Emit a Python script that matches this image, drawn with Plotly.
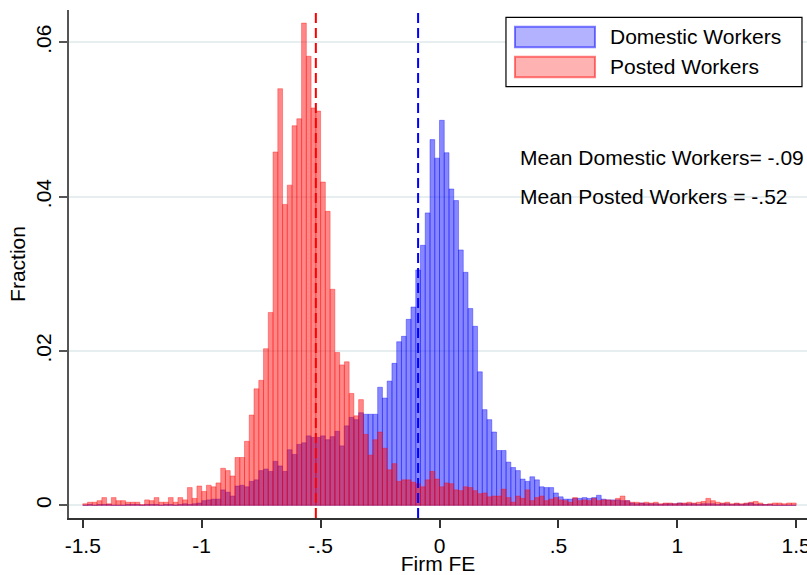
import plotly.graph_objects as go

# ---- data -------------------------------------------------------------
bin_width = 0.02
bin_start = -1.5
n_bins = 150

domestic = [
    0.0000, 0.0001, 0.0000, 0.0001, 0.0001, 0.0001, 0.0000, 0.0000, 0.0000, 0.0001,
    0.0001, 0.0001, 0.0000, 0.0001, 0.0001, 0.0001, 0.0000, 0.0001, 0.0001, 0.0000,
    0.0001, 0.0002, 0.0001, 0.0002, 0.0003, 0.0006, 0.0007, 0.0008, 0.0008, 0.0020,
    0.0017, 0.0012, 0.0025, 0.0026, 0.0024, 0.0031, 0.0033, 0.0045, 0.0047, 0.0044,
    0.0057, 0.0051, 0.0044, 0.0072, 0.0066, 0.0079, 0.0081, 0.0090, 0.0088, 0.0088,
    0.0090, 0.0085, 0.0089, 0.0096, 0.0077, 0.0103, 0.0114, 0.0111, 0.0120, 0.0118,
    0.0118, 0.0118, 0.0153, 0.0139, 0.0161, 0.0184, 0.0212, 0.0219, 0.0241, 0.0257,
    0.0305, 0.0337, 0.0379, 0.0474, 0.0450, 0.0499, 0.0457, 0.0410, 0.0395, 0.0331,
    0.0302, 0.0255, 0.0232, 0.0173, 0.0124, 0.0111, 0.0095, 0.0071, 0.0071, 0.0056,
    0.0049, 0.0045, 0.0034, 0.0031, 0.0037, 0.0033, 0.0024, 0.0023, 0.0023, 0.0016,
    0.0011, 0.0008, 0.0008, 0.0009, 0.0009, 0.0010, 0.0009, 0.0010, 0.0013, 0.0008,
    0.0007, 0.0007, 0.0007, 0.0006, 0.0006, 0.0003, 0.0002, 0.0003, 0.0002, 0.0002,
    0.0002, 0.0001, 0.0002, 0.0002, 0.0002, 0.0003, 0.0002, 0.0002, 0.0002, 0.0001,
    0.0002, 0.0002, 0.0002, 0.0001, 0.0002, 0.0002, 0.0001, 0.0002, 0.0001, 0.0002,
    0.0003, 0.0001, 0.0001, 0.0001, 0.0001, 0.0000, 0.0000, 0.0000, 0.0000, 0.0000,
]

posted = [
    0.0002, 0.0004, 0.0004, 0.0006, 0.0010, 0.0002, 0.0010, 0.0006, 0.0006, 0.0004,
    0.0004, 0.0004, 0.0001, 0.0007, 0.0006, 0.0010, 0.0004, 0.0004, 0.0010, 0.0004,
    0.0010, 0.0007, 0.0023, 0.0009, 0.0025, 0.0018, 0.0026, 0.0024, 0.0029, 0.0048,
    0.0045, 0.0038, 0.0062, 0.0062, 0.0083, 0.0117, 0.0151, 0.0162, 0.0203, 0.0250,
    0.0458, 0.0540, 0.0390, 0.0415, 0.0492, 0.0501, 0.0625, 0.0582, 0.0515, 0.0511,
    0.0419, 0.0381, 0.0280, 0.0198, 0.0182, 0.0186, 0.0145, 0.0116, 0.0137, 0.0092,
    0.0065, 0.0085, 0.0095, 0.0074, 0.0046, 0.0054, 0.0031, 0.0033, 0.0033, 0.0030,
    0.0028, 0.0024, 0.0033, 0.0044, 0.0034, 0.0024, 0.0029, 0.0028, 0.0020, 0.0019,
    0.0024, 0.0023, 0.0019, 0.0015, 0.0016, 0.0011, 0.0012, 0.0012, 0.0021, 0.0010,
    0.0004, 0.0012, 0.0009, 0.0020, 0.0006, 0.0010, 0.0012, 0.0006, 0.0008, 0.0010,
    0.0007, 0.0006, 0.0004, 0.0010, 0.0006, 0.0007, 0.0006, 0.0009, 0.0006, 0.0007,
    0.0007, 0.0006, 0.0009, 0.0012, 0.0006, 0.0004, 0.0004, 0.0003, 0.0004, 0.0003,
    0.0004, 0.0002, 0.0003, 0.0003, 0.0002, 0.0003, 0.0003, 0.0004, 0.0003, 0.0004,
    0.0005, 0.0009, 0.0006, 0.0004, 0.0003, 0.0004, 0.0002, 0.0003, 0.0002, 0.0003,
    0.0004, 0.0005, 0.0003, 0.0001, 0.0002, 0.0003, 0.0003, 0.0002, 0.0003, 0.0003,
]

mean_domestic = -0.09
mean_posted = -0.52

x_tick_vals = [-1.5, -1, -0.5, 0, 0.5, 1, 1.5]
x_tick_text = ["-1.5", "-1", "-.5", "0", ".5", "1", "1.5"]
y_tick_vals = [0, 0.02, 0.04, 0.06]
y_tick_text = ["0", ".02", ".04", ".06"]

series_names = ["Domestic Workers", "Posted Workers"]
note_texts = ["Mean Domestic Workers= -.09", "Mean Posted Workers = -.52"]

# bin centres
centers = [round(bin_start + bin_width * (i + 0.5), 3) for i in range(n_bins)]

FONT = "Liberation Sans, Arial, Helvetica, sans-serif"
FS = 21

fig = go.Figure()
fig.add_trace(go.Bar(
    x=centers, y=domestic, width=bin_width, name=series_names[0],
    marker=dict(color="rgba(0,0,255,0.47)",
                line=dict(color="rgba(0,0,255,0.35)", width=1)),
    showlegend=False,
))
fig.add_trace(go.Bar(
    x=centers, y=posted, width=bin_width, name=series_names[1],
    marker=dict(color="rgba(255,0,0,0.47)",
                line=dict(color="rgba(255,0,0,0.35)", width=1)),
    showlegend=False,
))

# mean lines
for m, c in [(mean_posted, "#ff0000"), (mean_domestic, "#0000ff")]:
    fig.add_shape(type="line", xref="x", yref="paper", x0=m, x1=m, y0=0, y1=1,
                  line=dict(color=c, width=2, dash="10px,5px"))

# custom legend (Stata style)
fig.add_shape(type="rect", xref="paper", yref="paper",
              x0=0.5921, x1=0.9932, y0=0.8491, y1=0.9856,
              line=dict(color="#000000", width=1.2), fillcolor="white", layer="above")
sw = [((0.9266, 0.9671), "rgba(0,0,255,0.30)", "rgba(0,0,255,0.5)"),
      ((0.8675, 0.9081), "rgba(255,0,0,0.30)", "rgba(255,0,0,0.5)")]
for (y0, y1), fc, lc in sw:
    fig.add_shape(type="rect", xref="paper", yref="paper",
                  x0=0.6043, x1=0.7127, y0=y0, y1=y1,
                  line=dict(color=lc, width=2), fillcolor=fc, layer="above")
for name, yy in zip(series_names, [0.9474, 0.8884]):
    fig.add_annotation(text=name, xref="paper", yref="paper", x=0.7304, y=yy,
                       xanchor="left", yanchor="middle", showarrow=False,
                       font=dict(family=FONT, size=FS, color="black"))

for txt, yy in zip(note_texts, [0.7087, 0.6319]):
    fig.add_annotation(text=txt, xref="paper", yref="paper", x=0.6084, y=yy,
                       xanchor="left", yanchor="middle", showarrow=False,
                       font=dict(family=FONT, size=FS, color="black"))

fig.update_layout(
    width=807, height=575,
    margin=dict(l=69, r=0, t=10, b=57),
    paper_bgcolor="white", plot_bgcolor="white",
    barmode="overlay",
    font=dict(family=FONT, size=FS, color="black"),
    showlegend=False,
    xaxis=dict(
        range=[-1.558, 1.5454], tickvals=x_tick_vals, ticktext=x_tick_text,
        showgrid=False, zeroline=False, showline=True, linecolor="#333333",
        linewidth=2, ticks="outside", ticklen=8, tickwidth=1.5, tickcolor="#333333",
        ticklabeloverflow="allow",
        title=dict(text="Firm FE", standoff=7, font=dict(size=FS)),
        automargin=False,
    ),
    yaxis=dict(
        range=[-0.001646, 0.0642], tickvals=y_tick_vals, ticktext=y_tick_text,
        tickangle=-90, showgrid=True, gridcolor="#e6eef0", gridwidth=1.5,
        zeroline=False, showline=True, linecolor="#555555", linewidth=2,
        ticks="outside", ticklen=8, tickwidth=1.5, tickcolor="#555555",
        title=dict(text="Fraction", standoff=0, font=dict(size=FS)),
        automargin=False,
    ),
)

fig.write_html(
    "out.html",
    config={"displayModeBar": False},
    post_script="document.body.style.margin='0px';document.body.style.overflow='hidden';",
)
